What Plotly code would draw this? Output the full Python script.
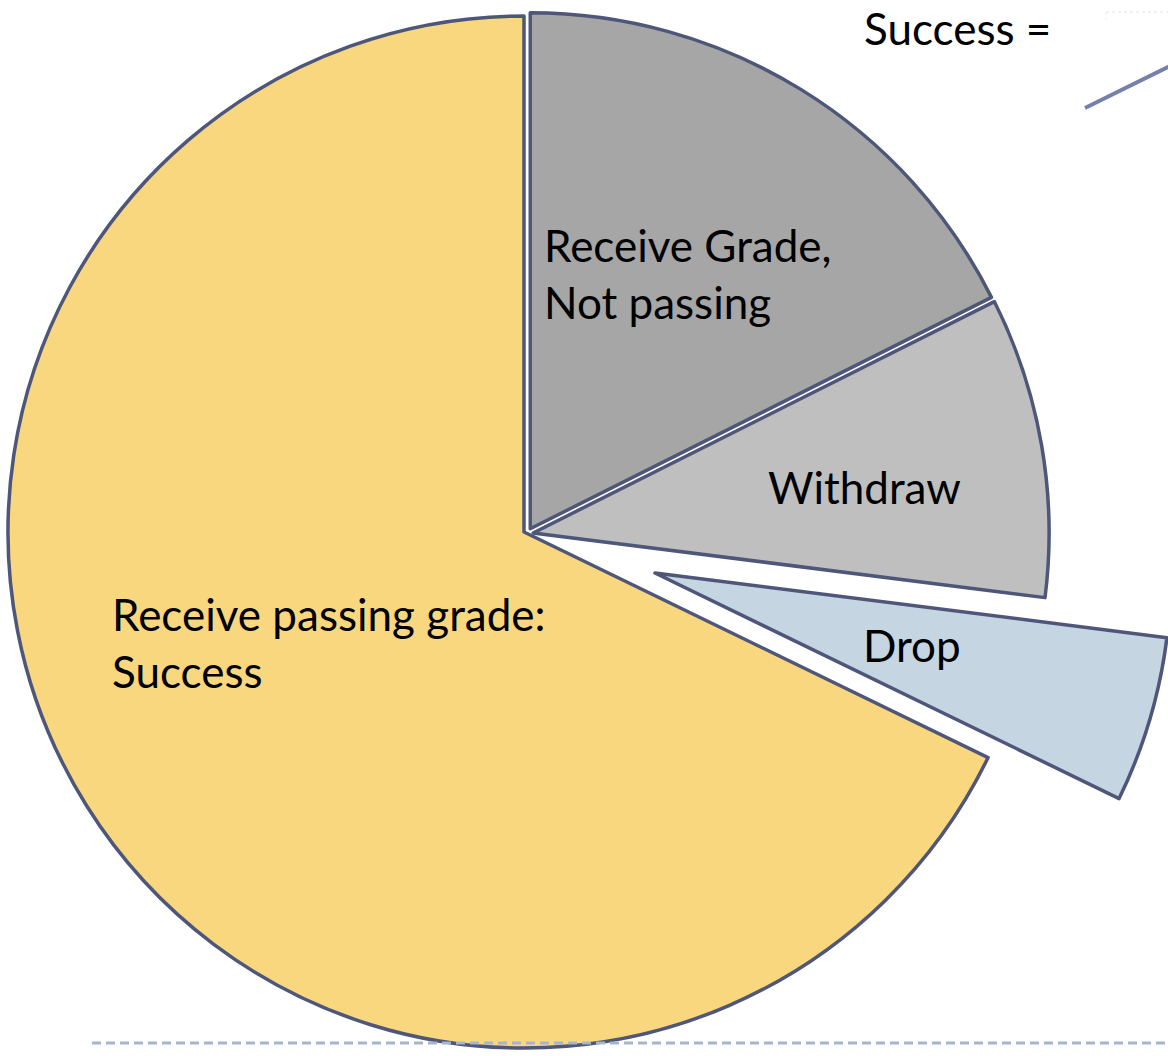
import plotly.graph_objects as go

# ---- data ----
labels = ["Receive Grade, Not passing", "Withdraw", "Drop", "Receive passing grade: Success"]
values = [17.6, 9.4, 5.2, 67.8]
slice_text = ["Receive Grade,<br>Not passing", "Withdraw", "Drop", "Receive passing grade:<br>Success"]
colors = ["#A6A6A6", "#BFBFBF", "#C5D5E2", "#F9D77E"]
header_text = "Success ="

# slice grouping: which slices are drawn by which (offset) pie layer
group_main = ["Receive passing grade: Success"]
group_side = ["Receive Grade, Not passing", "Withdraw"]
group_exploded = ["Drop"]

# ---- layout geometry (pixels) ----
W, H = 1180, 1100          # figure slightly larger than the window so the exploded slice is cropped
R = 516                    # pie radius
main_c = (524, 532)        # pie centre
side_c = (527, 534)        # slightly separated grey slices
side_pull = 0.012
drop_c = (655, 573)        # centre of the exploded slice
line_col = "#4E5679"
line_w = 3.5
font_fam = "Lato, 'Open Sans', sans-serif"
transparent = "rgba(0,0,0,0)"


def domain(center, half):
    cx, cy = center
    return dict(x=[(cx - half) / W, (cx + half) / W],
                y=[(H - cy - half) / H, (H - cy + half) / H])


def layer(members, center, pull=0.0, hover=True):
    inside = [lab in members for lab in labels]
    return go.Pie(
        labels=labels, values=values, sort=False, direction="clockwise", rotation=0,
        pull=[pull if m else 0 for m in inside],
        marker=dict(colors=[c if m else transparent for c, m in zip(colors, inside)],
                    line=dict(color=line_col, width=[line_w if m else 0 for m in inside])),
        textinfo="none", hoverinfo="label+percent" if hover else "skip",
        showlegend=False,
        domain=domain(center, R * (1 + pull)),
    )


fig = go.Figure()
fig.add_trace(layer(group_main, main_c))
fig.add_trace(layer(group_side, side_c, pull=side_pull))
fig.add_trace(layer(group_exploded, drop_c))

# slice labels
label_pos = [(542, 274), (766, 487), (861, 645), (110, 642)]
annos = []
for txt, (px, py) in zip(slice_text, label_pos):
    annos.append(dict(x=px / W, y=1 - py / H, xref="paper", yref="paper",
                      text=txt, showarrow=False, xanchor="left", yanchor="middle",
                      align="left", font=dict(family=font_fam, size=44, color="#000000")))
annos.append(dict(x=862 / W, y=1.0, xref="paper", yref="paper",
                  text=header_text, showarrow=False, xanchor="left", yanchor="top",
                  font=dict(family=font_fam, size=44, color="#000000")))

shapes = [
    # slide decoration: connector line top right
    dict(type="line", xref="paper", yref="paper",
         x0=1085 / W, y0=1 - 108 / H, x1=1190 / W, y1=1 - 56 / H,
         line=dict(color="#7581AC", width=4)),
    # faint dotted placeholder box
    dict(type="line", xref="paper", yref="paper",
         x0=1106 / W, y0=1 - 12 / H, x1=1180 / W, y1=1 - 12 / H,
         line=dict(color="#E2E2E2", width=1, dash="dot")),
    dict(type="line", xref="paper", yref="paper",
         x0=1106 / W, y0=1 - 12 / H, x1=1106 / W, y1=1 - 20 / H,
         line=dict(color="#EAEAEA", width=1, dash="dot")),
    # dashed footer rule
    dict(type="line", xref="paper", yref="paper",
         x0=92 / W, y0=1 - 1043 / H, x1=1180 / W, y1=1 - 1043 / H,
         line=dict(color="#A3B6CB", width=3, dash="9px,5px")),
]

fig.update_layout(
    width=W, height=H,
    margin=dict(l=0, r=0, t=0, b=0),
    paper_bgcolor="white", plot_bgcolor="white",
    annotations=annos, shapes=shapes,
    showlegend=False,
)

fig.write_html(
    "out.html",
    config={"displayModeBar": False},
    post_script="document.body.style.margin='0';document.body.style.overflow='hidden';",
)
